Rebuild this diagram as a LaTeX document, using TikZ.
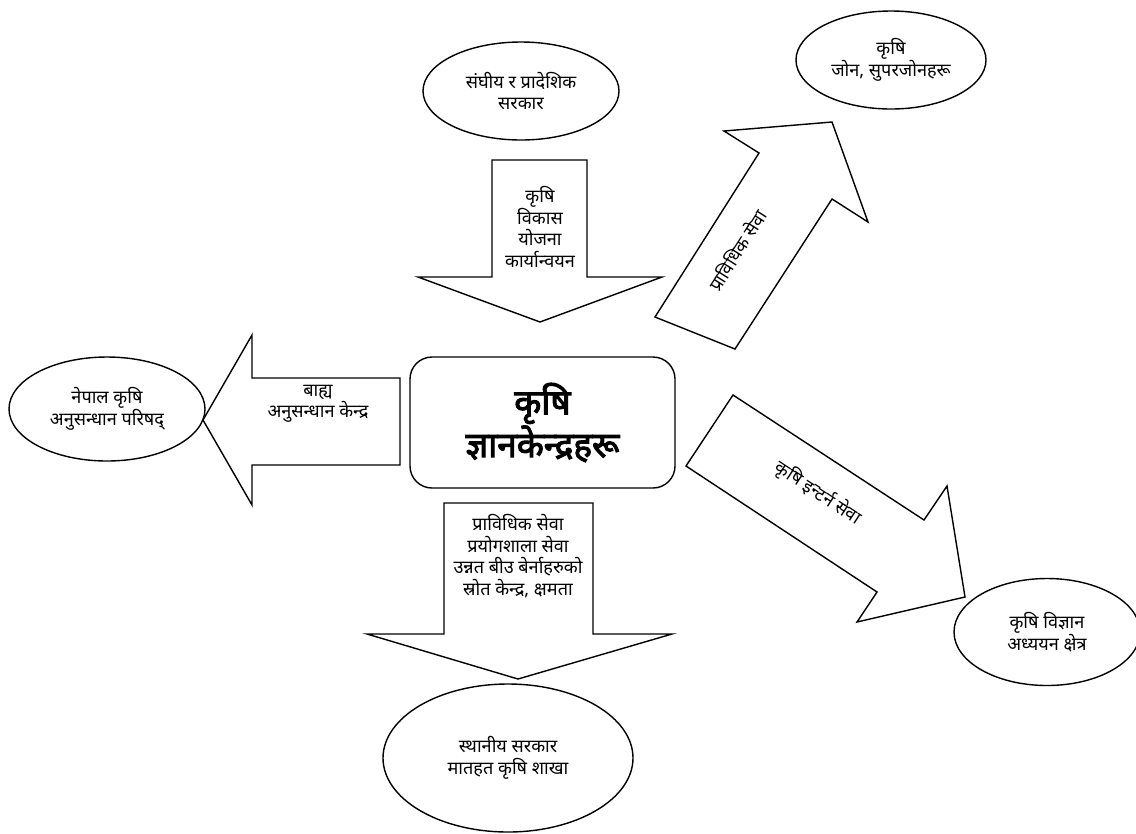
\documentclass[tikz,border=0pt]{standalone}
\usepackage{fontspec}
\newfontfamily\dev[Script=Devanagari]{Noto Sans}
\newfontfamily\devbold[Script=Devanagari,FakeBold=3]{Noto Sans}
\usetikzlibrary{shapes.geometric}
\begin{document}
\begin{tikzpicture}[x=0.02cm,y=-0.02cm,line width=0.8pt,line join=miter,
  oval/.style={draw,ellipse,inner sep=0pt,align=center,font=\dev\fontsize{10.3}{12.2}\selectfont},
  lbl/.style={align=center,inner sep=0pt,font=\dev\fontsize{10.3}{12.2}\selectfont},
  blockarrow/.style={draw,fill=white}]
\useasboundingbox (0,0) rectangle (1136,833);

% ellipses
\node[oval,minimum width=196*0.02cm,minimum height=98*0.02cm] (fed) at (521,91) {संघीय र प्रादेशिक\\सरकार};
\node[oval,minimum width=190*0.02cm,minimum height=98*0.02cm] (zone) at (891,60) {कृषि\\जोन, सुपरजोनहरू};
\node[oval,minimum width=196*0.02cm,minimum height=104*0.02cm] (narc) at (107,409) {नेपाल कृषि\\अनुसन्धान परिषद्};
\node[oval,minimum width=250*0.02cm,minimum height=148*0.02cm] (local) at (508,758) {स्थानीय सरकार\\मातहत कृषि शाखा};
\node[oval,minimum width=186*0.02cm,minimum height=107*0.02cm] (study) at (1047,632) {कृषि विज्ञान\\अध्ययन क्षेत्र};

% center box
\node[draw,rounded corners=0.44cm,minimum width=265*0.02cm,minimum height=131*0.02cm,align=center,
  font=\devbold\fontsize{20}{21.5}\selectfont] (center) at (542.5,422.5) {कृषि\\ज्ञानकेन्द्रहरू};

% block arrows
\draw[blockarrow] (492,160) -- (587,160) -- (587,277) -- (662,277) -- (540,322) -- (418,277) -- (492,277) -- cycle;
\node[lbl] (tdown) at (540,227) {कृषि\\विकास\\योजना\\कार्यान्वयन};

\draw[blockarrow] (400,378) -- (252,378) -- (252,335) -- (203,420) -- (252,505) -- (252,465) -- (400,465) -- cycle;
\node[lbl] (tleft) at (318,404) {बाह्य\\अनुसन्धान केन्द्र};

\draw[blockarrow] (444,503) -- (593,503) -- (593,634) -- (672,634) -- (518,679) -- (367,634) -- (444,634) -- cycle;
\node[lbl] (tbot) at (518,556) {प्राविधिक सेवा\\प्रयोगशाला सेवा\\उन्नत बीउ बेर्नाहरुको\\स्रोत केन्द्र, क्षमता};

\draw[blockarrow] (655,317) -- (759,153) -- (724,131) -- (832,122) -- (868,222) -- (832,199) -- (735,349) -- cycle;
\node[lbl,rotate=57.5] (tne) at (737,250) {प्राविधिक सेवा};

\draw[blockarrow] (733,395) -- (924,520) -- (947,486) -- (965,597) -- (857,622) -- (877,592) -- (686,466) -- cycle;
\node[lbl,rotate=-33.4] (tse) at (818,493) {कृषि इन्टर्न सेवा};
\end{tikzpicture}
\end{document}
